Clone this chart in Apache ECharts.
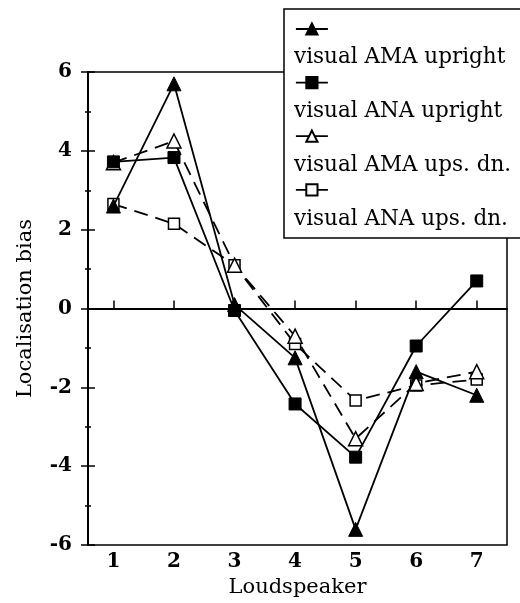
<!DOCTYPE html>
<html>
<head>
<meta charset="utf-8">
<script src="https://cdn.jsdelivr.net/npm/echarts@6/dist/echarts.min.js"></script>
<style>html,body{margin:0;padding:0;background:#fff}#c{width:520px;height:603px}</style>
</head>
<body>
<div id="c"></div>
<script>
const categories = [1, 2, 3, 4, 5, 6, 7];
const amaUpright = [2.6, 5.7, 0.1, -1.25, -5.6, -1.6, -2.2];
const anaUpright = [3.72, 3.83, -0.05, -2.42, -3.77, -0.95, 0.7];
const amaUpsDn = [3.7, 4.25, 1.1, -0.7, -3.3, -1.9, -1.6];
const anaUpsDn = [2.65, 2.15, 1.1, -0.9, -2.33, -1.95, -1.8];
const seriesNames = ['visual AMA upright', 'visual ANA upright', 'visual AMA ups. dn.', 'visual ANA ups. dn.'];
const xTicks = [1, 2, 3, 4, 5, 6, 7];

const FONT = 'DejaVu Serif';
const pair = arr => categories.map((c, i) => [c, arr[i]]);

const chart = echarts.init(document.getElementById('c'), null, {renderer: 'canvas'});
chart.setOption({
  animation: false,
  backgroundColor: '#fff',
  textStyle: {fontFamily: FONT, color: '#000'},
  grid: {left: 88, right: 13, top: 72, bottom: 55, show: true, borderColor: '#000', borderWidth: 1.5, backgroundColor: 'transparent'},
  legend: [
    {
      data: seriesNames,
      orient: 'vertical', left: 295, top: 22, padding: 0,
      itemWidth: 32, itemHeight: 14, itemGap: 40,
      formatter: () => '',
      textStyle: {fontSize: 10},
      lineStyle: {type: 'solid', width: 1.8, color: '#000'},
      selectedMode: false, z: 7
    },
    {
      data: seriesNames,
      orient: 'vertical', left: 284, top: 9,
      padding: [36, 30, 7, 4],
      itemWidth: 0, itemHeight: 0, itemGap: 30,
      itemStyle: {opacity: 0}, lineStyle: {opacity: 0},
      textStyle: {fontFamily: FONT, fontSize: 21.5, lineHeight: 24, color: '#000'},
      backgroundColor: '#fff', borderColor: '#000', borderWidth: 1.5,
      selectedMode: false, z: 6
    }
  ],
  xAxis: {
    type: 'value', min: 0.58, max: 7.5,
    name: 'Loudspeaker', nameLocation: 'middle', nameGap: 31,
    nameTextStyle: {fontFamily: FONT, fontSize: 21, color: '#000'},
    axisLine: {show: true, lineStyle: {color: '#000', width: 2}},
    axisTick: {show: true, inside: true, length: 8, customValues: xTicks, lineStyle: {color: '#000', width: 1.5}},
    axisLabel: {customValues: xTicks, fontFamily: FONT, fontSize: 20, fontWeight: 'bold', color: '#000', margin: 7},
    splitLine: {show: false}
  },
  yAxis: [
    {
      type: 'value', min: -6, max: 6, interval: 2,
      name: 'Localisation bias', nameLocation: 'middle', nameGap: 52, nameRotate: 90,
      nameTextStyle: {fontFamily: FONT, fontSize: 21, color: '#000'},
      axisLine: {show: true, lineStyle: {color: '#000', width: 2}},
      axisTick: {show: true, inside: false, length: 7, lineStyle: {color: '#000', width: 1.5}},
      minorTick: {show: true, splitNumber: 2, length: 3, lineStyle: {color: '#000', width: 1.5}},
      axisLabel: {fontFamily: FONT, fontSize: 20, fontWeight: 'bold', color: '#000', margin: 16},
      splitLine: {show: false}
    },
    {
      type: 'value', min: -6, max: 6, interval: 2, position: 'left', offset: 0,
      axisLine: {show: false},
      axisTick: {show: true, inside: true, length: 7, lineStyle: {color: '#000', width: 1.5}},
      minorTick: {show: true, splitNumber: 2, length: 3, lineStyle: {color: '#000', width: 1.5}},
      axisLabel: {show: false},
      splitLine: {show: false}
    }
  ],
  series: [
    {
      name: seriesNames[0], type: 'line', data: pair(amaUpright), z: 5,
      symbol: 'triangle', symbolSize: 14,
      lineStyle: {color: '#000', width: 1.8, type: 'solid'},
      itemStyle: {color: '#000', borderColor: '#000', borderWidth: 1},
      markLine: {
        silent: true, symbol: ['none', 'none'], label: {show: false},
        lineStyle: {color: '#000', type: 'solid', width: 1.8},
        data: [{yAxis: 0}]
      }
    },
    {
      name: seriesNames[1], type: 'line', data: pair(anaUpright), z: 4,
      symbol: 'rect', symbolSize: 12,
      lineStyle: {color: '#000', width: 1.8, type: 'solid'},
      itemStyle: {color: '#000', borderColor: '#000', borderWidth: 1}
    },
    {
      name: seriesNames[2], type: 'line', data: pair(amaUpsDn), z: 3,
      symbol: 'triangle', symbolSize: 14,
      lineStyle: {color: '#000', width: 1.8, type: [14, 8]},
      itemStyle: {color: '#fff', borderColor: '#000', borderWidth: 1.5}
    },
    {
      name: seriesNames[3], type: 'line', data: pair(anaUpsDn), z: 2,
      symbol: 'rect', symbolSize: 11,
      lineStyle: {color: '#000', width: 1.8, type: [14, 8]},
      itemStyle: {color: '#fff', borderColor: '#000', borderWidth: 1.5}
    }
  ]
});
</script>
</body>
</html>
